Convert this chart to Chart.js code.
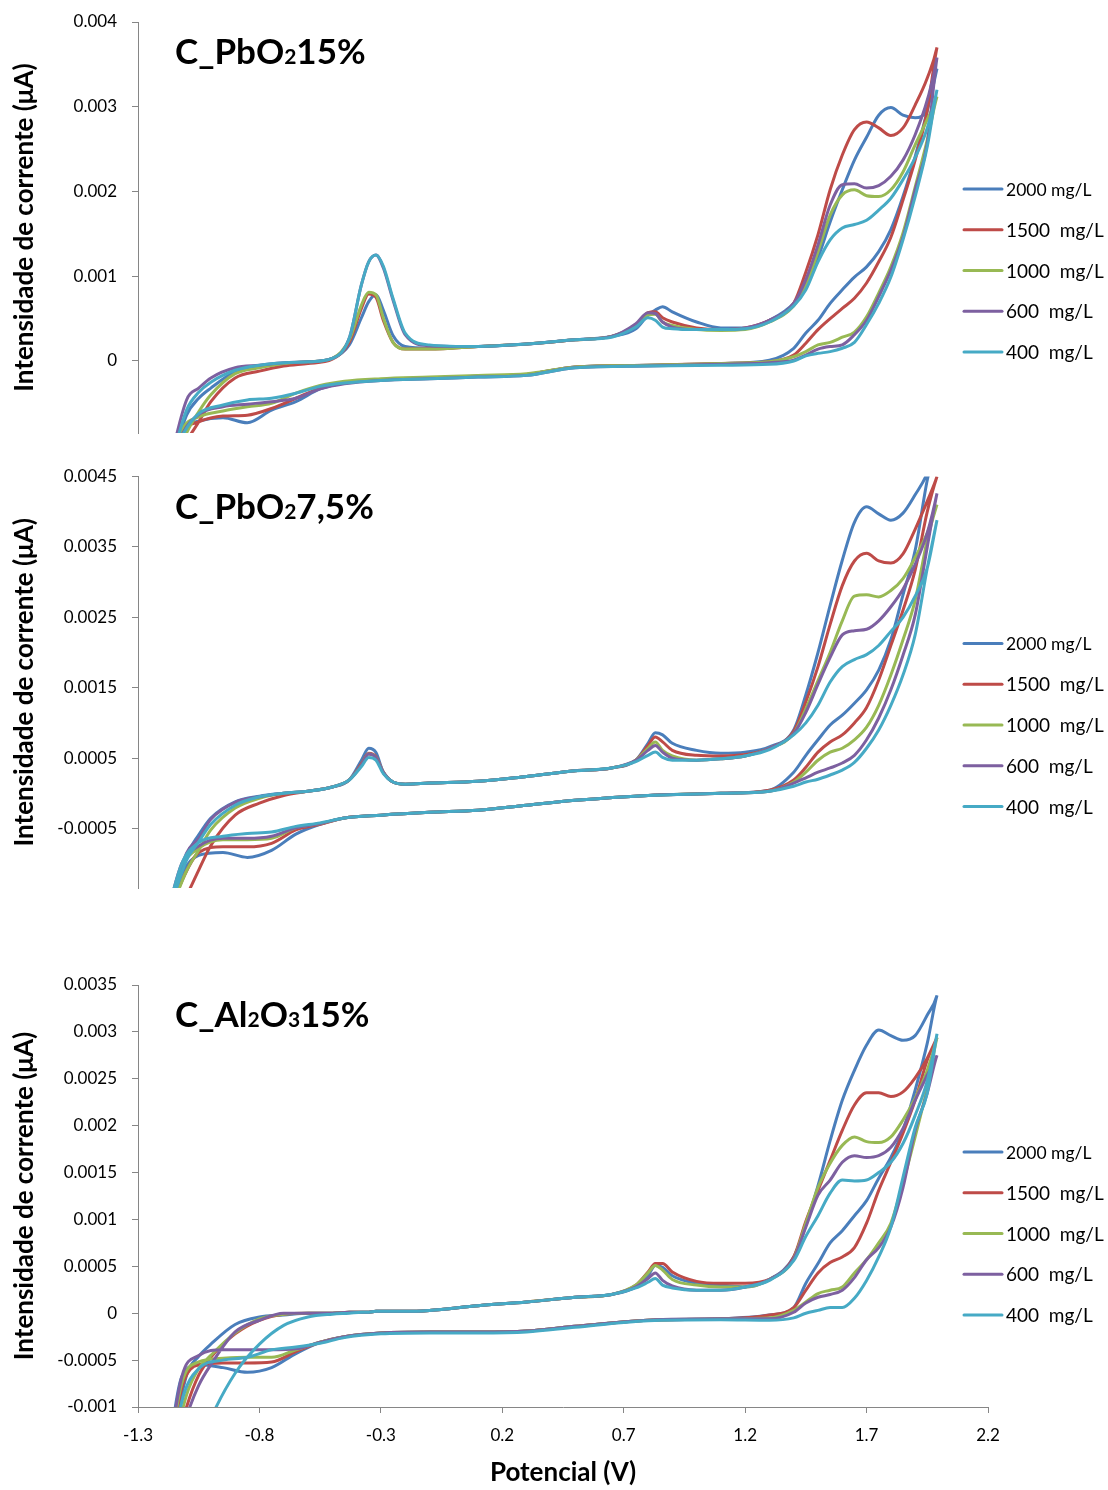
<!DOCTYPE html>
<html>
<head>
<meta charset="utf-8">
<script src="https://cdn.jsdelivr.net/npm/chart.js@4.4.1/dist/chart.umd.min.js"></script>
<style>
  html, body { margin: 0; padding: 0; background: #fff; }
  #page { position: relative; width: 1108px; height: 1490px; }
  .panel { position: absolute; left: 0; width: 1108px; }
  canvas { display: block; }
</style>
</head>
<body>
<div id="page">
  <div class="panel" style="top:0"><canvas id="cv1" width="1108" height="445"></canvas></div>
  <div class="panel" style="top:445px"><canvas id="cv2" width="1108" height="455"></canvas></div>
  <div class="panel" style="top:900px"><canvas id="cv3" width="1108" height="590"></canvas></div>
</div>
<script>
// cyclic voltammograms, current values below are in mA (axis is in A)
const UNIT = 1e-3;
const FONT = 'Lato, "Liberation Sans", sans-serif';
const AXIS = '#868686';

const SERIES = ['2000 mg/L', '1500  mg/L', '1000  mg/L', '600  mg/L', '400  mg/L'];
const COLORS = ['#4a7ebb', '#be4b48', '#98b954', '#7d60a0', '#46aac5'];

// potentials (V): anodic sweep up to the vertex, then cathodic sweep back
const UP_V = [-1.2, -1.1, -1.05, -1.0, -0.9, -0.8, -0.7, -0.6, -0.5, -0.43, -0.38, -0.35, -0.32, -0.29, -0.25, -0.2, -0.1,
  0.1, 0.3, 0.5, 0.65, 0.75, 0.8, 0.83, 0.86, 0.9, 1.0, 1.1, 1.2, 1.3, 1.4, 1.45, 1.5, 1.55, 1.6, 1.65, 1.7, 1.75, 1.8, 1.85, 1.9, 1.95, 1.99];
const DOWN_V = [1.99, 1.95, 1.9, 1.85, 1.8, 1.75, 1.7, 1.65, 1.6, 1.55, 1.5, 1.45, 1.4, 1.3, 1.1, 0.8, 0.5, 0.3, 0.1, -0.1,
  -0.3, -0.45, -0.55, -0.65, -0.75, -0.85, -0.95, -1.05, -1.12, -1.2];

const X_TICKS = [-1.3, -0.8, -0.3, 0.2, 0.7, 1.2, 1.7, 2.2];
const X_LABELS = ['-1.3', '-0.8', '-0.3', '0.2', '0.7', '1.2', '1.7', '2.2'];

// ---- C_PbO2 15% ----
const P1_TICKS = [0, 0.001, 0.002, 0.003, 0.004];
const P1_LABELS = ['0', '0.001', '0.002', '0.003', '0.004'];
const P1_UP = [
  [-1.6, -0.64, -0.44, -0.32, -0.13, -0.07, -0.03, -0.01, 0.03, 0.19, 0.51, 0.70, 0.78, 0.60, 0.30, 0.17, 0.15,
    0.17, 0.2, 0.25, 0.29, 0.38, 0.54, 0.60, 0.64, 0.58, 0.46, 0.39, 0.39, 0.48, 0.68, 0.90, 1.22, 1.64, 2.02, 2.37, 2.64, 2.90, 2.99, 2.90, 2.87, 2.98, 3.45],
  [-1.6, -0.95, -0.72, -0.48, -0.20, -0.12, -0.06, -0.03, 0.02, 0.22, 0.62, 0.79, 0.75, 0.48, 0.22, 0.14, 0.14,
    0.17, 0.2, 0.25, 0.29, 0.42, 0.57, 0.58, 0.51, 0.46, 0.39, 0.37, 0.39, 0.48, 0.68, 1.05, 1.49, 2.02, 2.43, 2.73, 2.82, 2.75, 2.66, 2.75, 3.02, 3.34, 3.70],
  [-1.6, -0.85, -0.60, -0.40, -0.15, -0.08, -0.03, -0.01, 0.03, 0.25, 0.66, 0.81, 0.78, 0.51, 0.22, 0.14, 0.14,
    0.17, 0.2, 0.25, 0.29, 0.42, 0.54, 0.55, 0.46, 0.42, 0.37, 0.36, 0.37, 0.46, 0.65, 0.90, 1.29, 1.72, 1.96, 2.02, 1.95, 1.94, 2.02, 2.23, 2.55, 2.85, 3.12],
  [-1.6, -0.46, -0.32, -0.20, -0.08, -0.05, -0.02, -0.01, 0.03, 0.27, 0.90, 1.17, 1.25, 1.10, 0.72, 0.31, 0.18,
    0.17, 0.2, 0.25, 0.29, 0.44, 0.57, 0.56, 0.46, 0.40, 0.37, 0.37, 0.39, 0.48, 0.68, 0.96, 1.37, 1.84, 2.08, 2.09, 2.04, 2.07, 2.18, 2.37, 2.67, 3.08, 3.58],
  [-1.6, -0.58, -0.37, -0.25, -0.11, -0.05, -0.02, -0.01, 0.03, 0.27, 0.90, 1.17, 1.25, 1.12, 0.74, 0.33, 0.19,
    0.17, 0.2, 0.25, 0.28, 0.40, 0.51, 0.48, 0.40, 0.38, 0.37, 0.37, 0.38, 0.46, 0.65, 0.84, 1.17, 1.43, 1.57, 1.61, 1.66, 1.78, 1.92, 2.14, 2.40, 2.75, 3.20]
];
const P1_DOWN = [
  [3.45, 2.95, 2.41, 1.94, 1.55, 1.29, 1.11, 0.99, 0.84, 0.68, 0.48, 0.33, 0.15, 0.01, -0.03, -0.05, -0.07, -0.16, -0.18, -0.2,
    -0.22, -0.26, -0.33, -0.48, -0.58, -0.73, -0.67, -0.71, -0.82, -1.6],
  [3.70, 2.96, 2.37, 1.90, 1.46, 1.17, 0.92, 0.74, 0.62, 0.50, 0.37, 0.21, 0.07, -0.01, -0.03, -0.05, -0.07, -0.16, -0.18, -0.2,
    -0.22, -0.26, -0.32, -0.44, -0.56, -0.64, -0.65, -0.72, -0.85, -1.6],
  [3.12, 2.61, 2.05, 1.51, 1.11, 0.80, 0.52, 0.34, 0.28, 0.22, 0.19, 0.11, 0.05, -0.01, -0.03, -0.05, -0.07, -0.15, -0.17, -0.19,
    -0.21, -0.24, -0.29, -0.38, -0.50, -0.54, -0.59, -0.66, -0.82, -1.6],
  [3.58, 2.57, 2.02, 1.46, 1.07, 0.76, 0.48, 0.31, 0.19, 0.17, 0.14, 0.07, 0.01, -0.02, -0.04, -0.06, -0.08, -0.17, -0.19, -0.21,
    -0.23, -0.27, -0.33, -0.44, -0.48, -0.51, -0.54, -0.63, -0.88, -1.6],
  [3.20, 2.53, 1.94, 1.43, 0.99, 0.68, 0.43, 0.22, 0.15, 0.11, 0.09, 0.06, 0.0, -0.04, -0.05, -0.06, -0.08, -0.17, -0.19, -0.21,
    -0.23, -0.26, -0.30, -0.38, -0.44, -0.46, -0.52, -0.62, -0.90, -1.6]
];

// ---- C_PbO2 7,5% ----
const P2_TICKS = [-0.0005, 0.0005, 0.0015, 0.0025, 0.0035, 0.0045];
const P2_LABELS = ['-0.0005', '0.0005', '0.0015', '0.0025', '0.0035', '0.0045'];
const P2_UP = [
  [-2.0, -0.88, -0.59, -0.35, -0.12, -0.04, 0.0, 0.03, 0.09, 0.19, 0.47, 0.64, 0.58, 0.30, 0.16, 0.13, 0.145,
    0.17, 0.24, 0.32, 0.36, 0.47, 0.71, 0.86, 0.83, 0.71, 0.61, 0.57, 0.585, 0.66, 0.90, 1.40, 2.0, 2.67, 3.31, 3.85, 4.07, 3.97, 3.88, 3.98, 4.24, 4.55, 5.0],
  [-2.0, -1.45, -1.09, -0.74, -0.31, -0.14, -0.03, 0.03, 0.09, 0.19, 0.42, 0.57, 0.52, 0.30, 0.16, 0.13, 0.145,
    0.17, 0.24, 0.32, 0.36, 0.47, 0.68, 0.80, 0.73, 0.61, 0.54, 0.53, 0.55, 0.64, 0.88, 1.30, 1.80, 2.40, 2.95, 3.30, 3.41, 3.30, 3.27, 3.40, 3.75, 4.15, 4.50],
  [-2.0, -1.1, -0.81, -0.52, -0.21, -0.07, 0.0, 0.03, 0.09, 0.19, 0.40, 0.56, 0.51, 0.30, 0.16, 0.13, 0.145,
    0.17, 0.24, 0.32, 0.36, 0.47, 0.64, 0.73, 0.61, 0.53, 0.47, 0.49, 0.53, 0.64, 0.85, 1.20, 1.60, 2.0, 2.45, 2.80, 2.82, 2.79, 2.88, 3.05, 3.35, 3.70, 4.10],
  [-2.0, -0.85, -0.64, -0.37, -0.13, -0.05, 0.0, 0.03, 0.09, 0.19, 0.40, 0.56, 0.51, 0.30, 0.16, 0.13, 0.145,
    0.17, 0.24, 0.32, 0.36, 0.47, 0.61, 0.68, 0.585, 0.50, 0.47, 0.49, 0.53, 0.64, 0.85, 1.15, 1.55, 1.93, 2.25, 2.31, 2.33, 2.45, 2.65, 2.90, 3.25, 3.70, 4.26],
  [-2.0, -0.95, -0.69, -0.44, -0.17, -0.05, 0.0, 0.03, 0.09, 0.19, 0.38, 0.51, 0.47, 0.28, 0.16, 0.13, 0.145,
    0.17, 0.24, 0.32, 0.36, 0.45, 0.54, 0.585, 0.51, 0.47, 0.47, 0.49, 0.53, 0.62, 0.83, 1.0, 1.25, 1.58, 1.80, 1.90, 1.97, 2.10, 2.30, 2.50, 2.80, 3.20, 3.88]
];
const P2_DOWN = [
  [5.0, 4.45, 3.45, 2.82, 2.18, 1.75, 1.47, 1.28, 1.11, 0.97, 0.76, 0.54, 0.30, 0.045, 0.0, -0.03, -0.1, -0.17, -0.24, -0.27,
    -0.31, -0.35, -0.44, -0.58, -0.81, -0.91, -0.84, -0.88, -1.15, -2.0],
  [4.5, 4.0, 3.17, 2.6, 2.1, 1.61, 1.22, 1.0, 0.83, 0.73, 0.585, 0.37, 0.19, 0.045, 0.0, -0.03, -0.1, -0.17, -0.24, -0.27,
    -0.31, -0.35, -0.44, -0.52, -0.71, -0.76, -0.76, -0.84, -1.25, -2.0],
  [4.1, 3.6, 2.74, 2.18, 1.68, 1.25, 0.94, 0.76, 0.64, 0.585, 0.47, 0.30, 0.16, 0.03, 0.0, -0.03, -0.1, -0.17, -0.24, -0.27,
    -0.31, -0.35, -0.43, -0.49, -0.64, -0.66, -0.66, -0.78, -1.05, -2.0],
  [4.26, 3.5, 2.53, 1.96, 1.47, 1.07, 0.76, 0.54, 0.43, 0.36, 0.30, 0.22, 0.145, 0.03, 0.0, -0.03, -0.1, -0.17, -0.24, -0.27,
    -0.31, -0.35, -0.43, -0.49, -0.61, -0.64, -0.64, -0.75, -1.0, -2.0],
  [3.88, 3.2, 2.25, 1.68, 1.25, 0.9, 0.64, 0.44, 0.33, 0.26, 0.2, 0.16, 0.1, 0.03, 0.0, -0.03, -0.1, -0.17, -0.24, -0.27,
    -0.31, -0.35, -0.42, -0.47, -0.55, -0.57, -0.61, -0.70, -1.0, -2.0]
];

// ---- C_Al2O3 15% ----
const P3_TICKS = [-0.001, -0.0005, 0, 0.0005, 0.001, 0.0015, 0.002, 0.0025, 0.003, 0.0035];
const P3_LABELS = ['-0.001', '-0.0005', '0', '0.0005', '0.001', '0.0015', '0.002', '0.0025', '0.003', '0.0035'];
const P3_UP = [
  [-2.0, -0.66, -0.46, -0.33, -0.12, -0.04, -0.02, 0.0, 0.0, 0.01, 0.01, 0.01, 0.02, 0.02, 0.02, 0.02, 0.03,
    0.08, 0.12, 0.17, 0.2, 0.28, 0.40, 0.51, 0.49, 0.40, 0.32, 0.30, 0.28, 0.36, 0.60, 0.94, 1.36, 1.84, 2.27, 2.59, 2.86, 3.02, 2.96, 2.91, 2.96, 3.18, 3.39],
  [-2.0, -1.0, -0.66, -0.47, -0.22, -0.075, -0.01, 0.0, 0.0, 0.01, 0.01, 0.01, 0.02, 0.02, 0.02, 0.02, 0.03,
    0.08, 0.12, 0.17, 0.2, 0.3, 0.44, 0.53, 0.53, 0.44, 0.34, 0.32, 0.32, 0.36, 0.60, 0.98, 1.31, 1.63, 1.95, 2.22, 2.35, 2.35, 2.31, 2.36, 2.51, 2.72, 2.94],
  [-2.0, -0.87, -0.59, -0.45, -0.21, -0.06, -0.01, 0.0, 0.0, 0.01, 0.01, 0.01, 0.02, 0.02, 0.02, 0.02, 0.03,
    0.08, 0.12, 0.17, 0.2, 0.3, 0.43, 0.51, 0.46, 0.36, 0.30, 0.28, 0.28, 0.36, 0.58, 0.96, 1.34, 1.6, 1.79, 1.88, 1.83, 1.82, 1.88, 2.06, 2.29, 2.59, 2.94],
  [-2.0, -1.1, -0.77, -0.55, -0.2, -0.075, 0.0, 0.0, 0.0, 0.01, 0.01, 0.01, 0.02, 0.02, 0.02, 0.02, 0.03,
    0.08, 0.12, 0.17, 0.2, 0.28, 0.37, 0.43, 0.35, 0.29, 0.245, 0.245, 0.28, 0.36, 0.58, 0.92, 1.26, 1.42, 1.61, 1.68, 1.66, 1.68, 1.77, 1.97, 2.27, 2.54, 2.75],
  [-2.2, -1.75, -1.45, -1.12, -0.64, -0.33, -0.13, -0.04, -0.01, 0.0, 0.01, 0.01, 0.02, 0.02, 0.02, 0.02, 0.03,
    0.08, 0.12, 0.17, 0.2, 0.27, 0.33, 0.37, 0.30, 0.27, 0.245, 0.245, 0.28, 0.35, 0.56, 0.82, 1.04, 1.28, 1.42, 1.41, 1.42, 1.5, 1.61, 1.81, 2.11, 2.48, 2.98]
];
const P3_DOWN = [
  [3.39, 2.88, 2.38, 1.95, 1.66, 1.44, 1.2, 1.04, 0.88, 0.75, 0.53, 0.32, 0.06, -0.02, -0.06, -0.075, -0.14, -0.19, -0.2, -0.2,
    -0.21, -0.25, -0.31, -0.43, -0.58, -0.63, -0.58, -0.55, -0.68, -2.0],
  [2.94, 2.7, 2.27, 1.92, 1.61, 1.31, 0.96, 0.70, 0.6, 0.54, 0.43, 0.245, 0.06, -0.02, -0.06, -0.075, -0.14, -0.19, -0.2, -0.2,
    -0.21, -0.25, -0.31, -0.41, -0.52, -0.53, -0.53, -0.55, -0.8, -2.0],
  [2.94, 2.41, 1.88, 1.39, 0.96, 0.75, 0.57, 0.43, 0.28, 0.245, 0.21, 0.12, 0.03, -0.05, -0.06, -0.075, -0.14, -0.19, -0.2, -0.2,
    -0.21, -0.25, -0.31, -0.39, -0.47, -0.47, -0.48, -0.52, -0.75, -2.0],
  [2.75, 2.35, 1.95, 1.34, 0.92, 0.70, 0.57, 0.38, 0.245, 0.2, 0.17, 0.11, 0.01, -0.06, -0.06, -0.075, -0.14, -0.19, -0.2, -0.2,
    -0.21, -0.25, -0.31, -0.38, -0.39, -0.39, -0.39, -0.45, -0.68, -2.0],
  [2.98, 2.35, 1.98, 1.45, 0.92, 0.6, 0.35, 0.16, 0.06, 0.06, 0.03, 0.0, -0.05, -0.075, -0.07, -0.08, -0.15, -0.2, -0.21, -0.21,
    -0.22, -0.26, -0.32, -0.36, -0.39, -0.47, -0.5, -0.59, -0.95, -2.2]
];

// join the two sweeps into one closed trace (vertex point shared)
function loop(up, down) {
  const pts = UP_V.map((v, k) => ({ x: v, y: up[k] * UNIT }));
  DOWN_V.forEach((v, k) => { if (k > 0) pts.push({ x: v, y: down[k] * UNIT }); });
  return pts;
}

// panel heading (formula with small digits) and the legend at the right
const decor = {
  id: 'decor',
  afterDraw(chart, args, o) {
    const ctx = chart.ctx;
    const area = chart.chartArea;
    ctx.save();
    ctx.fillStyle = '#000';
    ctx.textBaseline = 'alphabetic';
    ctx.textAlign = 'left';
    let x = area.left + 37;
    const base = area.top + 42;
    o.heading.forEach(([txt, small]) => {
      ctx.font = `bold ${small ? 21 : 35}px ${FONT}`;
      ctx.fillText(txt, x, base);
      x += ctx.measureText(txt).width;
    });

    ctx.textBaseline = 'middle';
    chart.data.datasets.forEach((ds, i) => {
      const y = area.top + 167 + i * 40.75;
      ctx.strokeStyle = ds.borderColor;
      ctx.lineWidth = 3;
      ctx.lineCap = 'round';
      ctx.beginPath();
      ctx.moveTo(964, y);
      ctx.lineTo(1002, y);
      ctx.stroke();
      ctx.font = `${i === 0 ? 17.5 : 19}px ${FONT}`;
      ctx.fillText(ds.label, 1006, y + 1);
    });
    ctx.restore();
  }
};

function makePanel(id, cfg) {
  const datasets = SERIES.map((name, i) => ({
    label: name,
    data: loop(cfg.up[i], cfg.down[i]),
    borderColor: COLORS[i],
    backgroundColor: COLORS[i],
    borderWidth: 3,
    pointRadius: 0,
    showLine: true,
    fill: false,
    cubicInterpolationMode: 'monotone',
    order: SERIES.length - 1 - i
  }));

  return new Chart(document.getElementById(id), {
    type: 'scatter',
    data: { datasets },
    plugins: [decor],
    options: {
      responsive: false,
      animation: false,
      layout: { padding: cfg.padding },
      plugins: {
        legend: { display: false },
        tooltip: { enabled: false },
        decor: { heading: cfg.heading }
      },
      scales: {
        x: {
          type: 'linear',
          min: -1.3,
          max: 2.2,
          display: cfg.showX,
          afterBuildTicks: s => { s.ticks = X_TICKS.map(v => ({ value: v })); },
          afterFit: s => { s.height = cfg.showX ? 83 : 0; },
          ticks: {
            callback: (v, i) => X_LABELS[i],
            font: { family: FONT, size: 17 },
            color: '#000',
            padding: 12,
            maxRotation: 0
          },
          grid: { drawOnChartArea: false, tickLength: 6, color: AXIS },
          border: { color: AXIS, width: 1 },
          title: {
            display: true,
            text: 'Potencial (V)',
            font: { family: FONT, size: 26, weight: 'bold' },
            color: '#000',
            padding: { top: 0, bottom: 2 }
          }
        },
        y: {
          min: cfg.yMin,
          max: cfg.yMax,
          afterBuildTicks: s => { s.ticks = cfg.yTicks.map(v => ({ value: v })); },
          // fixed axis width; no extra room for the end labels
          afterFit: s => { s.width = 138; s.paddingTop = 0; s.paddingBottom = 0; },
          ticks: {
            callback: (v, i) => cfg.yLabels[i],
            font: { family: FONT, size: 17 },
            color: '#000',
            padding: 15
          },
          grid: { drawOnChartArea: false, tickLength: 6, color: AXIS },
          border: { color: AXIS, width: 1 },
          title: {
            display: true,
            text: 'Intensidade de corrente (\u03bcA)',
            font: { family: FONT, size: 26, weight: 'bold' },
            color: '#000',
            padding: { top: 9, bottom: 0 }
          }
        }
      }
    }
  });
}

makePanel('cv1', {
  up: P1_UP, down: P1_DOWN, yMin: -0.00085, yMax: 0.004, yTicks: P1_TICKS, yLabels: P1_LABELS,
  showX: false, padding: { left: 0, right: 120, top: 22, bottom: 12 },
  heading: [['C_PbO', 0], ['2', 1], ['15%', 0]]
});
makePanel('cv2', {
  up: P2_UP, down: P2_DOWN, yMin: -0.001345, yMax: 0.0045, yTicks: P2_TICKS, yLabels: P2_LABELS,
  showX: false, padding: { left: 0, right: 120, top: 31.5, bottom: 12 },
  heading: [['C_PbO', 0], ['2', 1], ['7,5%', 0]]
});
makePanel('cv3', {
  up: P3_UP, down: P3_DOWN, yMin: -0.001, yMax: 0.0035, yTicks: P3_TICKS, yLabels: P3_LABELS,
  showX: true, padding: { left: 0, right: 120, top: 85, bottom: 0 },
  heading: [['C_Al', 0], ['2', 1], ['O', 0], ['3', 1], ['15%', 0]]
});
</script>
</body>
</html>
